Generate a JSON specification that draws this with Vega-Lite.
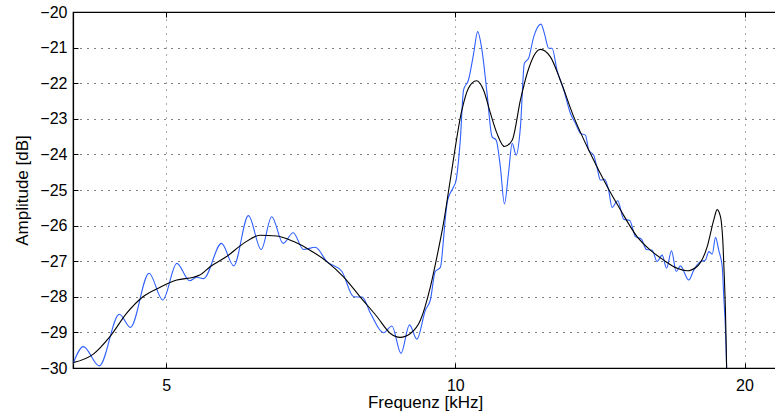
{
  "$schema": "https://vega.github.io/schema/vega-lite/v6.json",
  "width": 704,
  "height": 356,
  "autosize": {"type": "none"},
  "padding": {"left": 73, "top": 12, "right": 0, "bottom": 46},
  "background": "white",
  "config": {
    "view": {"stroke": "black", "strokeWidth": 1.2},
    "font": "Liberation Sans",
    "axis": {
      "labelFont": "Liberation Sans",
      "titleFont": "Liberation Sans",
      "labelColor": "black",
      "titleColor": "black",
      "labelFontSize": 16,
      "titleFontSize": 17,
      "titleFontWeight": "normal",
      "domain": true,
      "domainColor": "black",
      "domainWidth": 1.2,
      "ticks": true,
      "tickColor": "black",
      "tickWidth": 1,
      "labelOverlap": false
    }
  },
  "datasets": {
    "raw": [
      {"f": 4.00, "db": -29.88}, {"f": 4.10, "db": -29.40}, {"f": 4.26, "db": -29.94}, {"f": 4.47, "db": -28.49},
      {"f": 4.59, "db": -28.86}, {"f": 4.80, "db": -27.34}, {"f": 4.96, "db": -28.09}, {"f": 5.13, "db": -27.06},
      {"f": 5.29, "db": -27.55}, {"f": 5.38, "db": -27.45}, {"f": 5.47, "db": -27.49}, {"f": 5.71, "db": -26.50},
      {"f": 5.88, "db": -27.13}, {"f": 6.09, "db": -25.72}, {"f": 6.28, "db": -26.67}, {"f": 6.44, "db": -25.75},
      {"f": 6.62, "db": -26.50}, {"f": 6.78, "db": -26.20}, {"f": 6.95, "db": -26.67}, {"f": 7.15, "db": -26.61},
      {"f": 7.35, "db": -27.01}, {"f": 7.62, "db": -27.29}, {"f": 7.84, "db": -28.00}, {"f": 8.00, "db": -28.01},
      {"f": 8.16, "db": -28.46}, {"f": 8.42, "db": -29.01}, {"f": 8.59, "db": -28.82}, {"f": 8.78, "db": -29.59},
      {"f": 8.96, "db": -28.79}, {"f": 9.12, "db": -29.19}, {"f": 9.31, "db": -28.37}, {"f": 9.42, "db": -28.09},
      {"f": 9.53, "db": -27.29}, {"f": 9.65, "db": -27.17}, {"f": 9.72, "db": -26.40}, {"f": 9.76, "db": -25.84},
      {"f": 9.82, "db": -25.28}, {"f": 9.96, "db": -24.91}, {"f": 10.02, "db": -24.72}, {"f": 10.12, "db": -23.60},
      {"f": 10.20, "db": -22.19}, {"f": 10.32, "db": -21.91}, {"f": 10.45, "db": -21.16}, {"f": 10.55, "db": -20.55},
      {"f": 10.66, "db": -21.07}, {"f": 10.79, "db": -22.28}, {"f": 10.92, "db": -23.50}, {"f": 11.03, "db": -23.60},
      {"f": 11.14, "db": -24.35}, {"f": 11.25, "db": -25.39}, {"f": 11.36, "db": -24.53}, {"f": 11.46, "db": -23.69},
      {"f": 11.57, "db": -24.02}, {"f": 11.69, "db": -23.22}, {"f": 11.80, "db": -21.44}, {"f": 11.92, "db": -21.30},
      {"f": 12.07, "db": -20.69}, {"f": 12.28, "db": -20.34}, {"f": 12.38, "db": -20.60}, {"f": 12.51, "db": -21.02},
      {"f": 12.61, "db": -21.02}, {"f": 12.76, "db": -21.63}, {"f": 12.97, "db": -22.19}, {"f": 13.18, "db": -22.85},
      {"f": 13.34, "db": -23.13}, {"f": 13.50, "db": -23.41}, {"f": 13.66, "db": -23.46}, {"f": 13.77, "db": -23.88},
      {"f": 13.93, "db": -24.02}, {"f": 14.05, "db": -24.39}, {"f": 14.16, "db": -24.72}, {"f": 14.30, "db": -24.70},
      {"f": 14.44, "db": -25.00}, {"f": 14.56, "db": -25.49}, {"f": 14.76, "db": -25.30}, {"f": 14.97, "db": -25.82},
      {"f": 15.19, "db": -25.86}, {"f": 15.40, "db": -26.31}, {"f": 15.62, "db": -26.38}, {"f": 15.81, "db": -26.67},
      {"f": 16.03, "db": -26.69}, {"f": 16.22, "db": -27.01}, {"f": 16.42, "db": -26.83}, {"f": 16.59, "db": -27.20},
      {"f": 16.79, "db": -26.71}, {"f": 16.98, "db": -27.29}, {"f": 17.15, "db": -27.13}, {"f": 17.50, "db": -27.53},
      {"f": 17.71, "db": -27.25}, {"f": 18.00, "db": -27.01}, {"f": 18.21, "db": -26.97}, {"f": 18.36, "db": -26.73},
      {"f": 18.51, "db": -26.80}, {"f": 18.66, "db": -26.33}, {"f": 18.80, "db": -26.69}, {"f": 18.96, "db": -27.15},
      {"f": 19.03, "db": -28.00}, {"f": 19.11, "db": -28.93}, {"f": 19.16, "db": -29.96}, {"f": 19.19, "db": -31.0}
    ],
    "smooth": [
      {"f": 4.00, "db": -29.85}, {"f": 4.20, "db": -29.61}, {"f": 4.37, "db": -29.12}, {"f": 4.55, "db": -28.46},
      {"f": 4.73, "db": -28.00}, {"f": 4.93, "db": -27.73}, {"f": 5.13, "db": -27.53}, {"f": 5.34, "db": -27.45},
      {"f": 5.42, "db": -27.39}, {"f": 5.56, "db": -27.15}, {"f": 5.78, "db": -26.87}, {"f": 6.02, "db": -26.50},
      {"f": 6.26, "db": -26.27}, {"f": 6.52, "db": -26.29}, {"f": 6.79, "db": -26.45}, {"f": 7.06, "db": -26.69},
      {"f": 7.35, "db": -27.01}, {"f": 7.65, "db": -27.44}, {"f": 7.96, "db": -28.00}, {"f": 8.29, "db": -28.56},
      {"f": 8.56, "db": -29.03}, {"f": 8.76, "db": -29.14}, {"f": 8.98, "db": -29.03}, {"f": 9.20, "db": -28.65},
      {"f": 9.42, "db": -27.72}, {"f": 9.57, "db": -26.87}, {"f": 9.72, "db": -25.94}, {"f": 9.88, "db": -24.72},
      {"f": 10.16, "db": -22.75}, {"f": 10.32, "db": -22.14}, {"f": 10.52, "db": -21.93}, {"f": 10.70, "db": -22.19},
      {"f": 10.88, "db": -22.85}, {"f": 11.05, "db": -23.41}, {"f": 11.25, "db": -23.78}, {"f": 11.46, "db": -23.60},
      {"f": 11.69, "db": -22.47}, {"f": 11.88, "db": -21.72}, {"f": 12.26, "db": -21.05}, {"f": 12.56, "db": -21.26},
      {"f": 12.86, "db": -21.91}, {"f": 13.28, "db": -22.94}, {"f": 13.82, "db": -23.97}, {"f": 14.39, "db": -24.90},
      {"f": 14.85, "db": -25.55}, {"f": 15.46, "db": -26.31}, {"f": 15.96, "db": -26.69}, {"f": 16.48, "db": -26.97},
      {"f": 17.02, "db": -27.20}, {"f": 17.43, "db": -27.27}, {"f": 17.85, "db": -27.15}, {"f": 18.29, "db": -26.59},
      {"f": 18.58, "db": -25.84}, {"f": 18.73, "db": -25.55}, {"f": 18.88, "db": -25.75}, {"f": 19.00, "db": -26.59},
      {"f": 19.06, "db": -27.53}, {"f": 19.11, "db": -28.46}, {"f": 19.16, "db": -29.96}, {"f": 19.19, "db": -31.0}
    ]
  },
  "layer": [
    {
      "data": {"name": "raw"},
      "mark": {"type": "line", "color": "#2f5fff", "strokeWidth": 1.1, "interpolate": "monotone", "clip": true},
      "encoding": {
        "x": {
          "field": "f", "type": "quantitative",
          "scale": {"type": "log", "domain": [4, 21.62], "nice": false},
          "axis": {
            "orient": "bottom", "values": [5, 10, 20], "format": "d",
            "title": "Frequenz [kHz]", "titlePadding": 1,
            "domain": true, "ticks": true,
            "tickSize": -5, "labelPadding": 14,
            "grid": true, "gridColor": "#555", "gridDash": [1, 6], "gridWidth": 1
          }
        },
        "y": {
          "field": "db", "type": "quantitative",
          "scale": {"domain": [-30, -20], "nice": false},
          "axis": {
            "values": [-30, -29, -28, -27, -26, -25, -24, -23, -22, -21, -20],
            "format": "d", "title": "Amplitude [dB]", "titlePadding": 8,
            "domain": true, "ticks": true,
            "tickSize": -5, "labelPadding": 11,
            "grid": true, "gridColor": "black", "gridDash": [1, 6], "gridWidth": 1
          }
        }
      }
    },
    {
      "data": {"name": "smooth"},
      "mark": {"type": "line", "color": "black", "strokeWidth": 1.1, "interpolate": "monotone", "clip": true},
      "encoding": {
        "x": {
          "field": "f", "type": "quantitative",
          "axis": {
            "orient": "top", "values": [5, 10, 20], "labels": false, "title": null,
            "domain": true, "ticks": true,
            "tickSize": -5, "grid": false
          }
        },
        "y": {
          "field": "db", "type": "quantitative",
          "axis": {
            "values": [-30, -29, -28, -27, -26, -25, -24, -23, -22, -21, -20],
            "format": "d", "title": "Amplitude [dB]", "titlePadding": 8,
            "domain": true, "ticks": true,
            "tickSize": -5, "labelPadding": 11,
            "grid": true, "gridColor": "black", "gridDash": [1, 6], "gridWidth": 1
          }
        }
      }
    }
  ],
  "resolve": {"axis": {"x": "independent"}}
}
